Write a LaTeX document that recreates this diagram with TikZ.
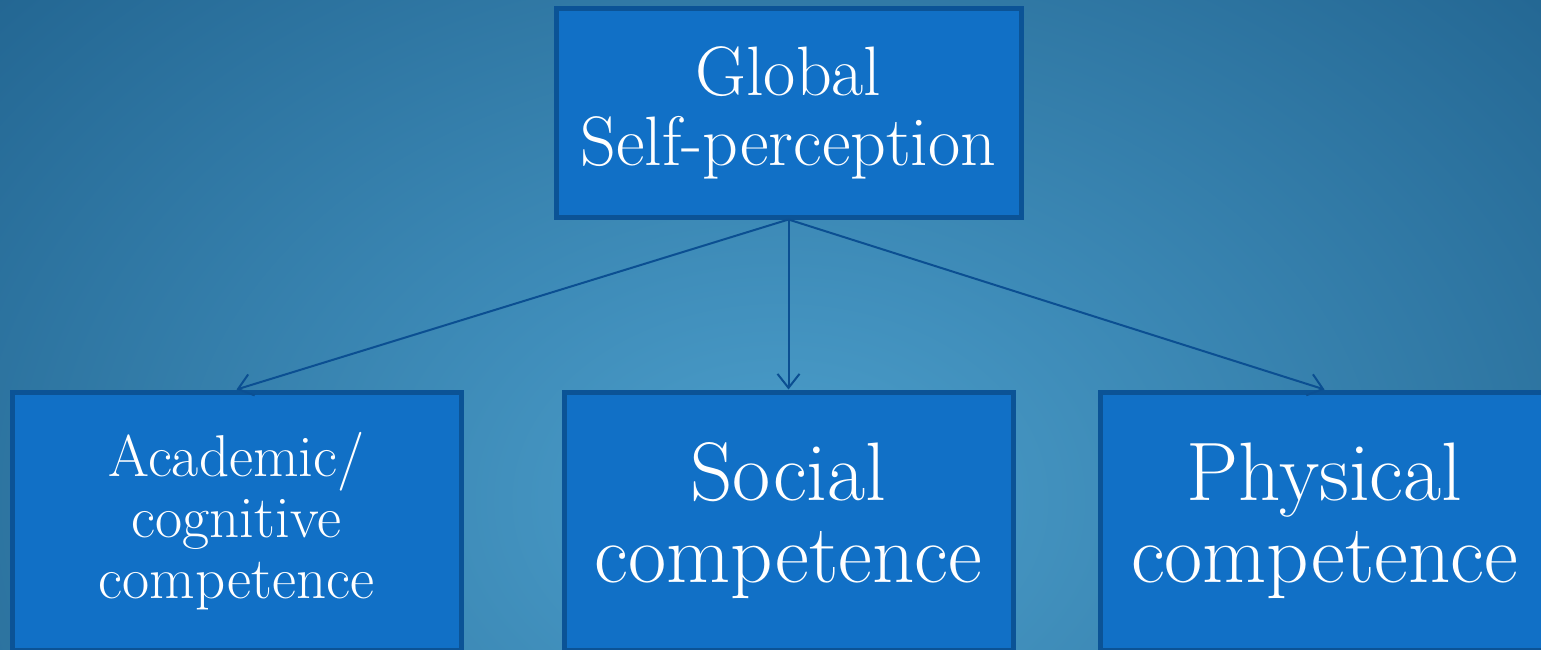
\documentclass[tikz,border=0pt]{standalone}
\usetikzlibrary{arrows.meta}
\definecolor{bgdark}{HTML}{1D5E8A}
\definecolor{bglight}{HTML}{4C9FCC}
\definecolor{boxfill}{HTML}{1170C6}
\definecolor{boxline}{HTML}{0B5396}
\definecolor{arrowcol}{HTML}{0B4F92}
\tikzset{
  box/.style={draw=boxline, line width=2.5pt, fill=boxfill, text=white, align=center, inner sep=0pt},
  link/.style={draw=arrowcol, line width=1pt, -{Straight Barb[length=7pt,width=11pt]}},
}
\begin{document}
\begin{tikzpicture}[x=0.5pt,y=-0.5pt]
\useasboundingbox (0,0) rectangle (1541,649);
\clip (0,0) rectangle (1541,649);
\shade[inner color=bglight, outer color=bgdark] (-420,-380) rectangle (1980,1380);
\node[box, minimum width=232.5pt, minimum height=104.5pt,
      font=\fontsize{35}{35}\selectfont] (global) at (788.5,112.5) {\raisebox{-1pt}{Global}\\\raisebox{-1pt}{Self-perception}};
\node[box, minimum width=224.5pt, minimum height=129pt,
      font=\fontsize{29.5}{30.5}\selectfont] (acad) at (236.5,521) {Academic/\\cognitive\\competence};
\node[box, minimum width=224.5pt, minimum height=129pt,
      font=\fontsize{41.5}{41}\selectfont] (social) at (788.5,521) {\raisebox{-1.5pt}{Social}\\\raisebox{-1.5pt}{competence}};
\node[box, minimum width=224.5pt, minimum height=129pt,
      font=\fontsize{41.5}{41}\selectfont] (phys) at (1324.5,521) {\raisebox{-1.5pt}{Physical}\\\raisebox{-1.5pt}{competence}};
\draw[link] (global.south) -- (acad.north);
\draw[link] (global.south) -- (social.north);
\draw[link] (global.south) -- (phys.north);
\end{tikzpicture}
\end{document}
